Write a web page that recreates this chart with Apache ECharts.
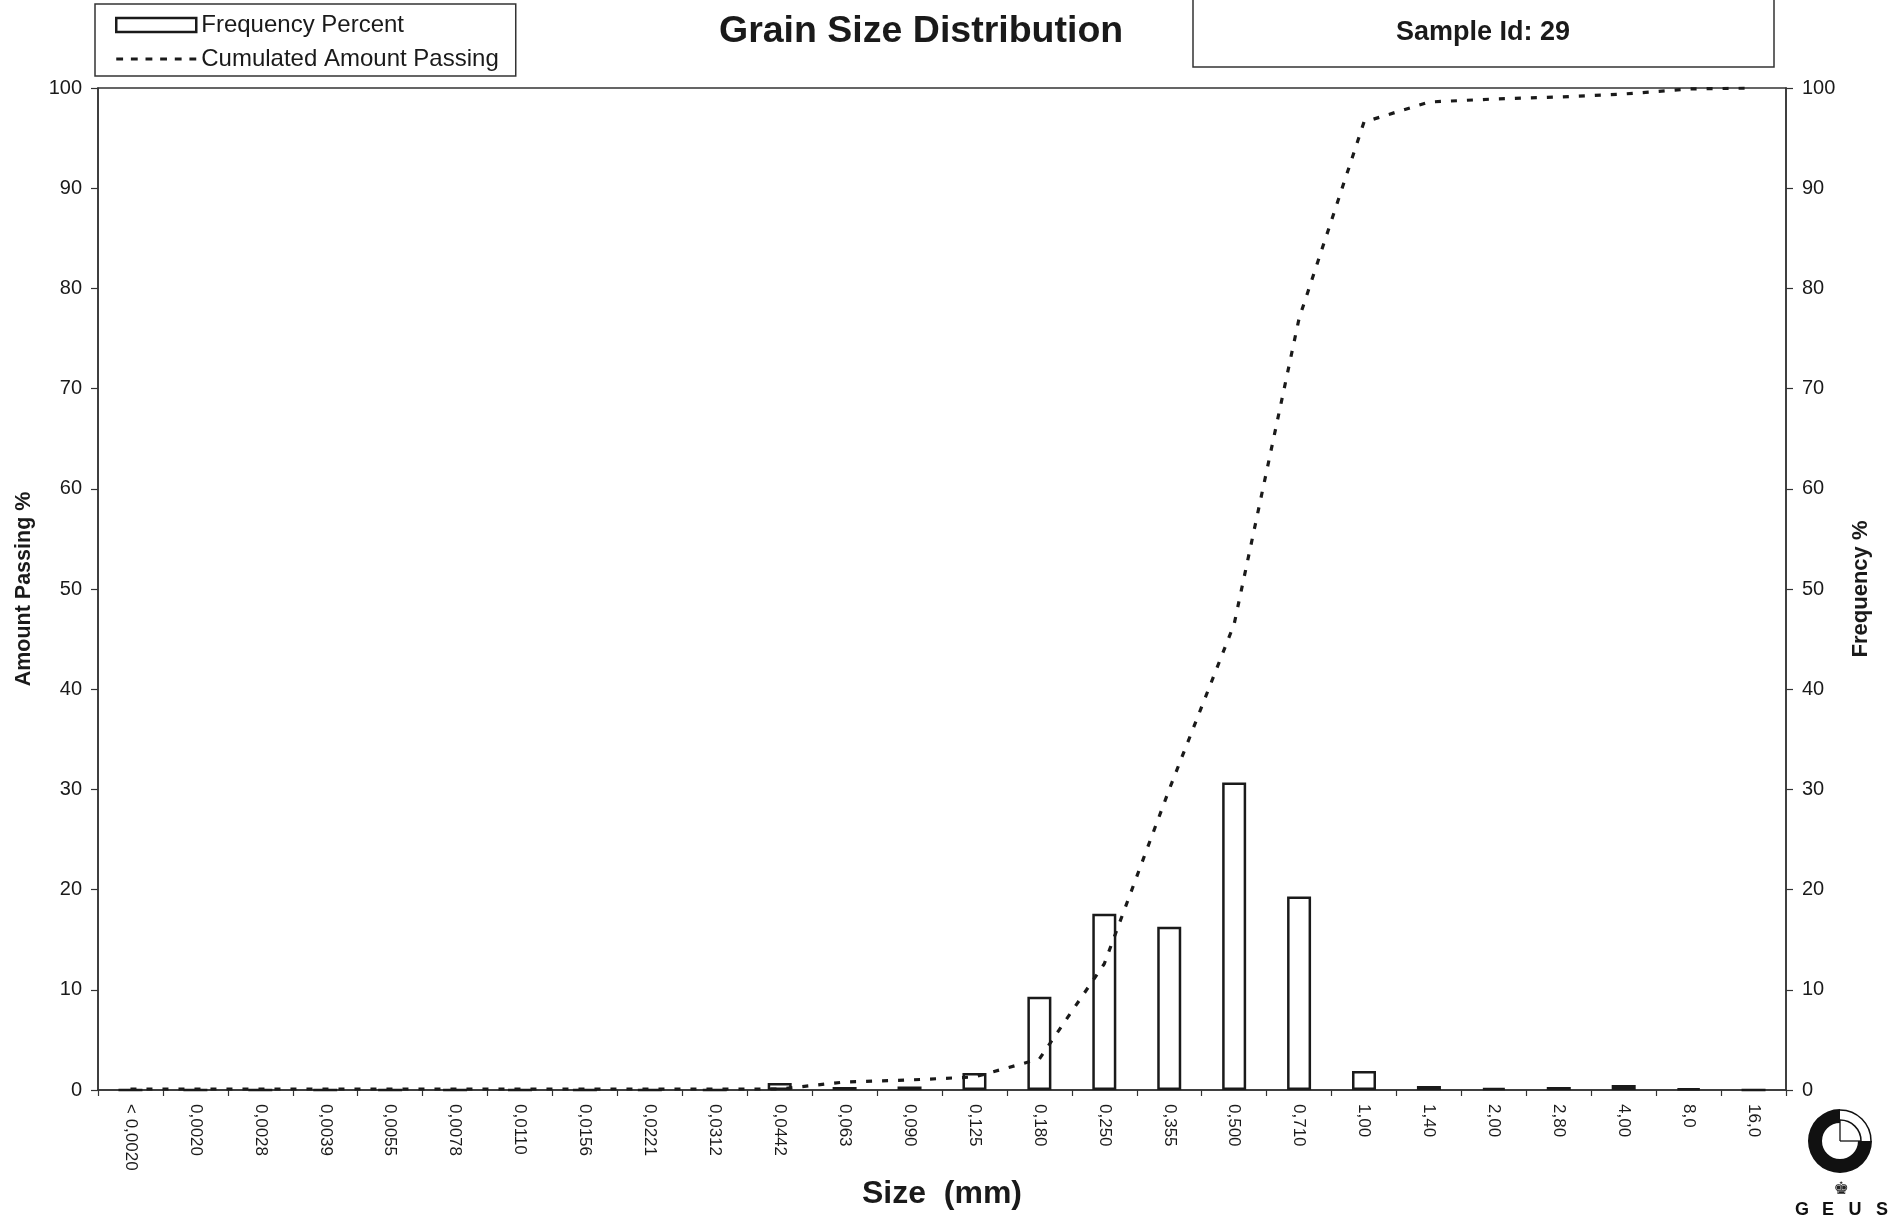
<!DOCTYPE html>
<html>
<head>
<meta charset="utf-8">
<script src="https://cdn.jsdelivr.net/npm/echarts@6/dist/echarts.min.js"></script>
<style>
html,body{margin:0;padding:0;background:#fff;}
#chart{width:1895px;height:1227px;}
</style>
</head>
<body>
<div id="chart"></div>
<script>
var categories = ["< 0,0020","0,0020","0,0028","0,0039","0,0055","0,0078","0,0110","0,0156","0,0221","0,0312","0,0442","0,063","0,090","0,125","0,180","0,250","0,355","0,500","0,710","1,00","1,40","2,00","2,80","4,00","8,0","16,0"];
var frequencyPercent = [0,0,0,0,0,0,0,0,0,0,0.7,0.3,0.35,1.7,9.3,17.6,16.3,30.7,19.3,1.9,0.4,0.2,0.3,0.5,0.15,0];
var cumulatedPassing = [0.1,0.1,0.1,0.1,0.1,0.1,0.1,0.1,0.1,0.1,0.1,0.8,1.0,1.3,3.1,12.6,30.0,46.5,77.0,96.6,98.6,98.9,99.1,99.4,99.9,100];
var yTicks = {min:0, max:100, interval:10};

var FONT = "'Liberation Sans', Arial, sans-serif";
var INK = '#1a1a1a';
var DASH_ICON = 'path://M0,0M0,14M0,5.5h7v3h-7zM15,5.5h7v3h-7zM30,5.5h7v3h-7zM45,5.5h7v3h-7zM60,5.5h7v3h-7zM75,5.5h7v3h-7z';
var chart = echarts.init(document.getElementById('chart'), null, {renderer:'canvas'});

var option = {
  backgroundColor:'#fff',
  animation:false,
  textStyle:{fontFamily:FONT, color:INK},
  title:{
    text:'Grain Size Distribution',
    left:719, top:13, padding:0,
    textStyle:{fontFamily:FONT, fontSize:37.5, fontWeight:'bold', color:INK}
  },
  legend:{
    orient:'vertical',
    left:95, top:4,
    padding:[9,17,5,20],
    itemGap:10,
    itemWidth:80, itemHeight:14,
    backgroundColor:'#fff',
    borderColor:'#333', borderWidth:1.5,
    textStyle:{fontFamily:FONT, fontSize:24, color:INK, lineHeight:24},
    data:[
      {name:'Frequency Percent', icon:'rect', itemStyle:{color:'#fff', borderColor:INK, borderWidth:2.5}},
      {name:'Cumulated Amount Passing', icon:DASH_ICON, itemStyle:{color:INK, borderWidth:0}}
    ]
  },
  grid:{
    left:98, right:109, top:88, bottom:137,
    show:true, borderColor:'#333', borderWidth:1.5, backgroundColor:'transparent'
  },
  xAxis:{
    type:'category',
    data:categories,
    boundaryGap:true,
    name:'Size  (mm)',
    nameLocation:'middle',
    nameGap:86,
    nameTextStyle:{fontFamily:FONT, fontSize:32, fontWeight:'bold', color:INK},
    axisLine:{lineStyle:{color:'#333', width:1.5}},
    axisTick:{show:true, length:6, alignWithLabel:false, lineStyle:{color:'#333', width:1.2}},
    axisLabel:{interval:0, rotate:-90, fontSize:17, margin:14, color:INK, fontFamily:FONT},
    splitLine:{show:false}
  },
  yAxis:[
    {
      type:'value', position:'left',
      min:yTicks.min, max:yTicks.max, interval:yTicks.interval,
      name:'Amount Passing %',
      nameLocation:'middle', nameRotate:90, nameGap:63,
      nameTextStyle:{fontFamily:FONT, fontSize:21.5, fontWeight:'bold', color:INK},
      axisLine:{show:true, lineStyle:{color:'#333', width:1.5}},
      axisTick:{show:true, length:7, lineStyle:{color:'#333', width:1.2}},
      axisLabel:{fontSize:20, margin:16, color:INK, fontFamily:FONT},
      splitLine:{show:false}
    },
    {
      type:'value', position:'right',
      min:yTicks.min, max:yTicks.max, interval:yTicks.interval,
      name:'Frequency %',
      nameLocation:'middle', nameRotate:90, nameGap:64,
      nameTextStyle:{fontFamily:FONT, fontSize:22, fontWeight:'bold', color:INK},
      axisLine:{show:true, lineStyle:{color:'#333', width:1.5}},
      axisTick:{show:true, length:7, lineStyle:{color:'#333', width:1.2}},
      axisLabel:{fontSize:20, margin:16, color:INK, fontFamily:FONT},
      splitLine:{show:false}
    }
  ],
  series:[
    {
      name:'Frequency Percent',
      type:'bar',
      yAxisIndex:1,
      data:frequencyPercent,
      barWidth:24,
      itemStyle:{color:'#fff', borderColor:INK, borderWidth:2.5}
    },
    {
      name:'Cumulated Amount Passing',
      type:'line',
      yAxisIndex:0,
      data:cumulatedPassing,
      symbol:'none',
      smooth:false,
      lineStyle:{color:INK, width:3.2, type:[6,10]},
      itemStyle:{color:INK},
      z:5
    }
  ],
  graphic:[
    {type:'rect', shape:{x:1193, y:-5, width:581, height:72}, style:{fill:'#fff', stroke:'#333', lineWidth:1.5}, z:10},
    {type:'text', x:1483, y:33, style:{text:'Sample Id: 29', fontFamily:FONT, fontSize:27, fontWeight:'bold', fill:INK, textAlign:'center', textVerticalAlign:'middle'}, z:11},
    // GEUS logo
    {type:'group', x:1840, y:1141, z:10, children:[
      {type:'sector', shape:{cx:0, cy:0, r:32, r0:18, startAngle:0, endAngle:1.5*Math.PI, clockwise:true}, style:{fill:'#111'}},
      {type:'arc', shape:{cx:0, cy:0, r:31, startAngle:1.5*Math.PI, endAngle:2*Math.PI}, style:{stroke:'#111', lineWidth:1.5, fill:null}},
      {type:'arc', shape:{cx:0, cy:0, r:21, startAngle:1.5*Math.PI, endAngle:2*Math.PI}, style:{stroke:'#111', lineWidth:1.5, fill:null}},
      {type:'line', shape:{x1:0, y1:0, x2:0, y2:-21}, style:{stroke:'#111', lineWidth:1.3}},
      {type:'line', shape:{x1:0, y1:0, x2:21, y2:0}, style:{stroke:'#111', lineWidth:1.3}}
    ]},
    {type:'text', x:1841, y:1190, style:{text:'\u265A', fontFamily:"'DejaVu Sans'", fontSize:17, fill:'#222', textAlign:'center', textVerticalAlign:'middle'}, z:10},
    {type:'text', x:1802, y:1210, style:{text:'G', fontFamily:FONT, fontSize:18, fontWeight:'bold', fill:'#111', textAlign:'center', textVerticalAlign:'middle'}, z:10},
    {type:'text', x:1828, y:1210, style:{text:'E', fontFamily:FONT, fontSize:18, fontWeight:'bold', fill:'#111', textAlign:'center', textVerticalAlign:'middle'}, z:10},
    {type:'text', x:1855, y:1210, style:{text:'U', fontFamily:FONT, fontSize:18, fontWeight:'bold', fill:'#111', textAlign:'center', textVerticalAlign:'middle'}, z:10},
    {type:'text', x:1882, y:1210, style:{text:'S', fontFamily:FONT, fontSize:18, fontWeight:'bold', fill:'#111', textAlign:'center', textVerticalAlign:'middle'}, z:10}
  ]
};
chart.setOption(option);
</script>
</body>
</html>
